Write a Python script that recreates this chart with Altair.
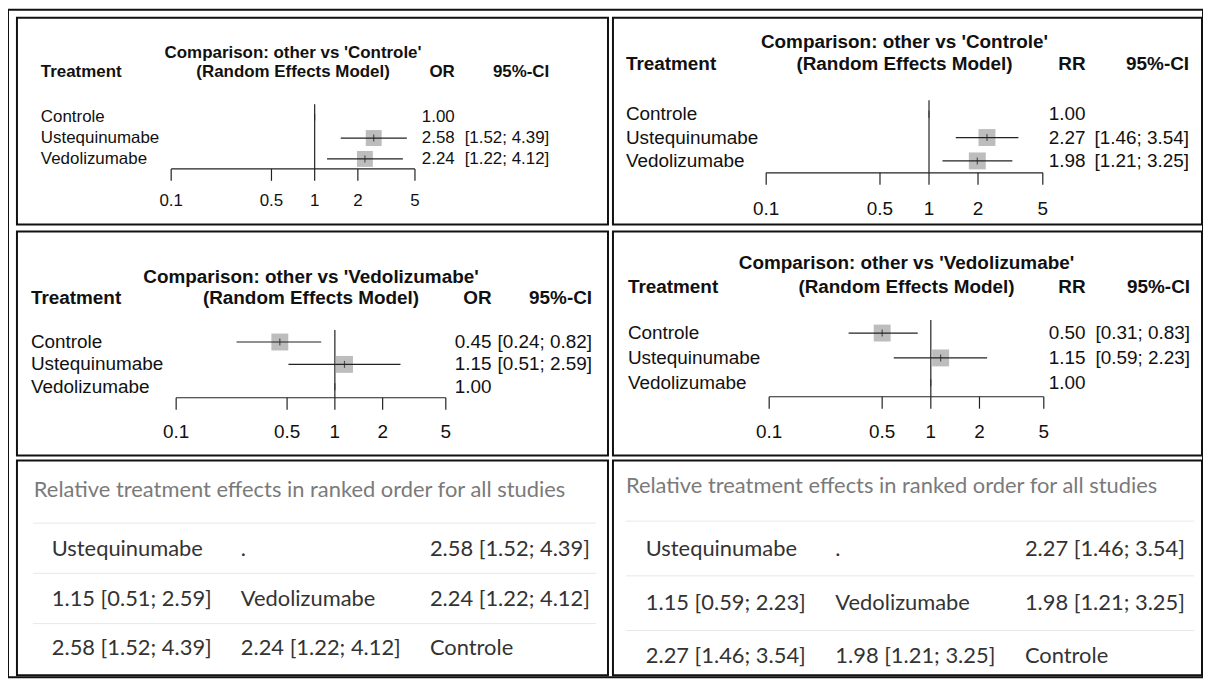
import altair as alt
import pandas as pd

OX, OY = 8, 8
FONT = "Liberation Sans"
TFONT = "Lato"

treatments = ["Controle", "Ustequinumabe", "Vedolizumabe"]
axis_ticks = [0.1, 0.5, 1, 2, 5]
axis_labels = ["0.1", "0.5", "1", "2", "5"]

# OR, other vs Controle
or_c_est = [1.00, 2.58, 2.24]
or_c_lo = [None, 1.52, 1.22]
or_c_hi = [None, 4.39, 4.12]
# RR, other vs Controle
rr_c_est = [1.00, 2.27, 1.98]
rr_c_lo = [None, 1.46, 1.21]
rr_c_hi = [None, 3.54, 3.25]
# OR, other vs Vedolizumabe
or_v_est = [0.45, 1.15, 1.00]
or_v_lo = [0.24, 0.51, None]
or_v_hi = [0.82, 2.59, None]
# RR, other vs Vedolizumabe
rr_v_est = [0.50, 1.15, 1.00]
rr_v_lo = [0.31, 0.59, None]
rr_v_hi = [0.83, 2.23, None]

table_title = "Relative treatment effects in ranked order for all studies"
table_or = [
    ["Ustequinumabe", ".", "2.58 [1.52; 4.39]"],
    ["1.15 [0.51; 2.59]", "Vedolizumabe", "2.24 [1.22; 4.12]"],
    ["2.58 [1.52; 4.39]", "2.24 [1.22; 4.12]", "Controle"],
]
table_rr = [
    ["Ustequinumabe", ".", "2.27 [1.46; 3.54]"],
    ["1.15 [0.59; 2.23]", "Vedolizumabe", "1.98 [1.21; 3.25]"],
    ["2.27 [1.46; 3.54]", "1.98 [1.21; 3.25]", "Controle"],
]


def fmt_ci(lo, hi):
    if lo is None or hi is None:
        return ""
    return f"[{lo:.2f}; {hi:.2f}]"


def panel_df(est, lo, hi):
    return pd.DataFrame({
        "trt": treatments,
        "est": est,
        "lo": lo,
        "hi": hi,
        "eff": [f"{v:.2f}" for v in est],
        "ci": [fmt_ci(a, b) for a, b in zip(lo, hi)],
    })


def txt(s, x, y, fs, bold=False, align="left", color="#111", font=FONT):
    return alt.Chart(pd.DataFrame({"t": [s]})).mark_text(
        align=align, baseline="middle", fontSize=fs,
        fontWeight="bold" if bold else "normal", font=font, color=color
    ).encode(x=alt.value(x - OX), y=alt.value(y - OY), text="t:N")


def frame(x0, y0, x1, y1):
    return alt.Chart(pd.DataFrame({"a": [0]})).mark_rect(
        fillOpacity=0, stroke="#111", strokeWidth=2
    ).encode(x=alt.value(x0 - OX), x2=alt.value(x1 - OX),
             y=alt.value(y0 - OY), y2=alt.value(y1 - OY))


LINE = "#222"


def forest(df, measure, comp, L):
    fs = L["fs"]
    xs = alt.Scale(type="log", domain=[axis_ticks[0], axis_ticks[-1]],
                   range=[L["x0"] - OX, L["x1"] - OX], nice=False)
    ys = alt.Scale(type="point", domain=treatments,
                   range=[L["r0"] - OY, L["r1"] - OY], padding=0)
    Y = alt.Y("trt:N", scale=ys, axis=None)
    base = alt.Chart(df)
    cen = (L["x0"] + L["x1"]) / 2
    layers = []
    # reference line at 1
    layers.append(alt.Chart(pd.DataFrame({"v": [1]})).mark_rule(color=LINE, strokeWidth=1.2).encode(
        x=alt.X("v:Q", scale=xs, axis=None),
        y=alt.value(L["ref"] - OY), y2=alt.value(L["axis"] - OY)))
    # boxes
    layers.append(base.transform_filter("isValid(datum.lo)").mark_square(
        size=L["box"] ** 2, color="#bdbdbd", opacity=1).encode(
        x=alt.X("est:Q", scale=xs, axis=None), y=Y))
    # CI lines
    layers.append(base.transform_filter("isValid(datum.lo)").mark_rule(
        color=LINE, strokeWidth=1.2).encode(
        x=alt.X("lo:Q", scale=xs, axis=None), x2="hi:Q", y=Y))
    # estimate ticks
    layers.append(base.mark_tick(orient="vertical", size=7, thickness=1.2, color=LINE).encode(
        x=alt.X("est:Q", scale=xs, axis=None), y=Y))
    # axis
    ax = pd.DataFrame({"tick": axis_ticks, "lab": axis_labels})
    layers.append(alt.Chart(pd.DataFrame({"a": [axis_ticks[0]], "b": [axis_ticks[-1]]})).mark_rule(
        color=LINE, strokeWidth=1.2).encode(
        x=alt.X("a:Q", scale=xs, axis=None), x2="b:Q", y=alt.value(L["axis"] - OY)))
    layers.append(alt.Chart(ax).mark_rule(color=LINE, strokeWidth=1.2).encode(
        x=alt.X("tick:Q", scale=xs, axis=None),
        y=alt.value(L["axis"] - OY), y2=alt.value(L["axis"] + 12 - OY)))
    layers.append(alt.Chart(ax).mark_text(baseline="middle", align="center", fontSize=fs,
                                          font=FONT, color="#111").encode(
        x=alt.X("tick:Q", scale=xs, axis=None), y=alt.value(L["lab"] - OY), text="lab:N"))
    # row texts
    layers.append(base.mark_text(align="left", baseline="middle", fontSize=fs, font=FONT,
                                 color="#111").encode(
        x=alt.value(L["lx"] - OX), y=Y, text="trt:N"))
    layers.append(base.mark_text(align="right", baseline="middle", fontSize=fs, font=FONT,
                                 color="#111").encode(
        x=alt.value(L["er"] - OX), y=Y, text="eff:N"))
    layers.append(base.mark_text(align="right", baseline="middle", fontSize=fs, font=FONT,
                                 color="#111").encode(
        x=alt.value(L["cr"] - OX), y=Y, text="ci:N"))
    # headers
    layers.append(txt(f"Comparison: other vs '{comp}'", cen, L["title"], fs, True, "center"))
    layers.append(txt("Treatment", L["lx"], L["head"], fs, True, "left"))
    layers.append(txt("(Random Effects Model)", cen, L["head"], fs, True, "center"))
    layers.append(txt(measure, L["er"], L["head"], fs, True, "right"))
    layers.append(txt("95%-CI", L["cr"], L["head"], fs, True, "right"))
    layers.append(frame(*L["frame"]))
    return layers


def table(cells, L):
    fs = L["fs"]
    rows = []
    for r, row in enumerate(cells):
        for c, v in enumerate(row):
            rows.append({"row": r, "col": c, "v": v})
    df = pd.DataFrame(rows)
    layers = [txt(table_title, L["tx"], L["ty"], fs, False, "left", "#7a7a7a", TFONT)]
    sep = pd.DataFrame({"i": [0, 1, 2]})
    layers.append(alt.Chart(sep).mark_rule(color="#e8e8e8", strokeWidth=1).encode(
        y=alt.Y("i:O", scale=alt.Scale(type="point", domain=[0, 1, 2],
                                       range=[L["s0"] - OY, L["s2"] - OY], padding=0), axis=None),
        x=alt.value(L["sx0"] - OX), x2=alt.value(L["sx1"] - OX)))
    layers.append(alt.Chart(df).mark_text(align="left", baseline="middle", fontSize=fs,
                                          font=TFONT, color="#333").encode(
        x=alt.X("col:O", scale=alt.Scale(type="point", domain=[0, 1, 2],
                                         range=[L["c0"] - OX, L["c2"] - OX], padding=0), axis=None),
        y=alt.Y("row:O", scale=alt.Scale(type="point", domain=[0, 1, 2],
                                         range=[L["r0"] - OY, L["r2"] - OY], padding=0), axis=None),
        text="v:N"))
    layers.append(frame(*L["frame"]))
    return layers


TL = dict(fs=17, x0=172, x1=417, lx=41, er=457, cr=552, title=52, head=71, r0=116, r1=158,
          axis=168, lab=200, ref=103, box=16, frame=(17, 16, 611, 224))
TR = dict(fs=19, x0=770, x1=1048, lx=629, er=1091, cr=1195, title=41, head=63, r0=113, r1=160,
          axis=172, lab=208, ref=99, box=17, frame=(616, 16, 1208, 224))
ML = dict(fs=19, x0=177, x1=448, lx=31, er=494, cr=595, title=277, head=298, r0=342, r1=387,
          axis=398, lab=432, ref=330, box=17, frame=(17, 231, 611, 456))
MR = dict(fs=19, x0=773, x1=1049, lx=631, er=1091, cr=1196, title=263, head=287, r0=333, r1=383,
          axis=397, lab=432, ref=320, box=17, frame=(616, 231, 1208, 456))
BL = dict(fs=22, tx=34, ty=491, s0=524, s2=625, sx0=33, sx1=599, c0=52, c2=432, r0=550, r2=650,
          frame=(17, 461, 611, 677))
BR = dict(fs=22, tx=629, ty=487, s0=522, s2=632, sx0=629, sx1=1200, c0=649, c2=1030, r0=550, r2=658,
          frame=(616, 461, 1208, 677))

layers = []
layers += forest(panel_df(or_c_est, or_c_lo, or_c_hi), "OR", "Controle", TL)
layers += forest(panel_df(rr_c_est, rr_c_lo, rr_c_hi), "RR", "Controle", TR)
layers += forest(panel_df(or_v_est, or_v_lo, or_v_hi), "OR", "Vedolizumabe", ML)
layers += forest(panel_df(rr_v_est, rr_v_lo, rr_v_hi), "RR", "Vedolizumabe", MR)
layers += table(table_or, BL)
layers += table(table_rr, BR)

chart = alt.layer(*layers).resolve_scale(x="independent", y="independent").properties(
    width=1201, height=671, padding=0, autosize=alt.AutoSizeParams(type="none")
).configure_view(stroke="#111", strokeWidth=2)

chart.save("out.html", embed_options={"renderer": "svg", "actions": False})
